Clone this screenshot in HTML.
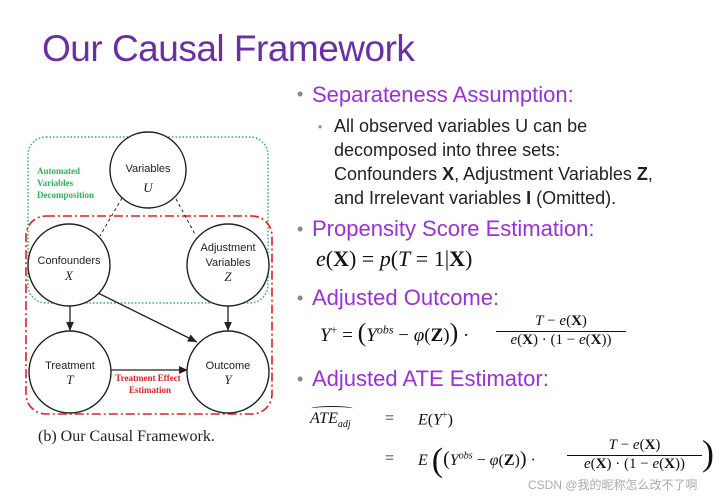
<!DOCTYPE html>
<html><head><meta charset="utf-8"><style>
body{margin:0;width:721px;height:500px;background:#fff;position:relative;overflow:hidden;font-family:"Liberation Sans",sans-serif}
.a{position:absolute;white-space:nowrap}
.p{color:#9b30d9;font-size:22px}
.b{color:#888;font-size:18px}
.t{color:#222;font-size:18px;line-height:24px}
.m{font-family:"Liberation Serif",serif;color:#111}
</style></head><body>
<div class="a" style="left:42px;top:28px;font-size:37px;color:#6a2ea8;letter-spacing:-0.5px">Our Causal Framework</div>
<svg class="a" style="left:0;top:0" width="290" height="500">
<defs><marker id="ar" markerWidth="8" markerHeight="8" refX="7" refY="4" orient="auto"><path d="M0,1 L7,4 L0,7z" fill="#222"/></marker></defs>
<rect x="28" y="137" width="240" height="166" rx="18" fill="none" stroke="#2db35a" stroke-width="1.5" stroke-dasharray="1.5,2"/>
<rect x="26" y="216" width="246" height="198" rx="20" fill="none" stroke="#e02020" stroke-width="1.6" stroke-dasharray="9,3,2,3"/>
<line x1="122" y1="198" x2="100" y2="236" stroke="#222" stroke-dasharray="3,3"/>
<line x1="176" y1="199" x2="196" y2="236" stroke="#222" stroke-dasharray="3,3"/>
<line x1="70" y1="303" x2="70" y2="331" stroke="#222" stroke-width="1.3" marker-end="url(#ar)"/>
<line x1="228" y1="303" x2="228" y2="331" stroke="#222" stroke-width="1.3" marker-end="url(#ar)"/>
<line x1="98" y1="293" x2="197" y2="342" stroke="#222" stroke-width="1.3" marker-end="url(#ar)"/>
<line x1="110" y1="370" x2="188" y2="370" stroke="#222" stroke-width="1.3" marker-end="url(#ar)"/>
<g fill="#fff" stroke="#222" stroke-width="1.4">
<circle cx="148" cy="170" r="38"/><circle cx="69" cy="265" r="41"/><circle cx="228" cy="265" r="41"/>
<circle cx="70" cy="372" r="41"/><circle cx="228" cy="372" r="41"/></g>
<g font-family="Liberation Sans" font-size="11" fill="#222" text-anchor="middle">
<text x="148" y="172">Variables</text><text x="69" y="264">Confounders</text>
<text x="228" y="251">Adjustment</text><text x="228" y="266">Variables</text>
<text x="70" y="369">Treatment</text><text x="228" y="369">Outcome</text></g>
<g font-family="Liberation Serif" font-style="italic" font-size="13" fill="#222" text-anchor="middle">
<text x="148" y="192">U</text><text x="69" y="280">X</text><text x="228" y="281">Z</text><text x="70" y="384">T</text><text x="228" y="384">Y</text></g>
<g font-family="Liberation Serif" font-weight="bold" font-size="9" fill="#2db35a">
<text x="37" y="174">Automated</text><text x="37" y="186">Variables</text><text x="37" y="198">Decomposition</text></g>
<g font-family="Liberation Serif" font-weight="bold" font-size="9" fill="#e02020" text-anchor="middle">
<text x="148" y="381">Treatment Effect</text><text x="150" y="393">Estimation</text></g>
<text x="38" y="441" font-family="Liberation Serif" font-size="16" fill="#222">(b) Our Causal Framework.</text>
</svg>
<div class="a b" style="left:297px;top:84px">•</div><div class="a p" style="left:312px;top:82px">Separateness Assumption:</div>
<div class="a" style="left:318px;top:120px;color:#888;font-size:12px">•</div>
<div class="a t" style="left:334px;top:114px">All observed variables U can be<br>decomposed into three sets:<br>Confounders <b>X</b>, Adjustment Variables <b>Z</b>,<br>and Irrelevant variables <b>I</b> (Omitted).</div>
<div class="a b" style="left:297px;top:219px">•</div><div class="a p" style="left:312px;top:216px">Propensity Score Estimation:</div>
<div class="a m" style="left:316px;top:246px;font-size:22px"><i>e</i>(<b>X</b>) = <i>p</i>(<i>T</i> = 1|<b>X</b>)</div>
<div class="a b" style="left:297px;top:288px">•</div><div class="a p" style="left:312px;top:285px">Adjusted Outcome:</div>
<div class="a m" style="left:320px;top:318px;font-size:19px"><i>Y</i><sup style="font-size:12px">+</sup> = <span style="font-size:26px">(</span><i>Y<sup style="font-size:12px">obs</sup></i> − <i>φ</i>(<b>Z</b>)<span style="font-size:26px">)</span> ·</div>
<div class="a m" style="left:496px;top:313px;font-size:15px;text-align:center;width:130px"><div style="border-bottom:1px solid #111;padding-bottom:1px"><i>T</i> − <i>e</i>(<b>X</b>)</div><div><i>e</i>(<b>X</b>) · (1 − <i>e</i>(<b>X</b>))</div></div>
<div class="a b" style="left:297px;top:369px">•</div><div class="a p" style="left:312px;top:366px">Adjusted ATE Estimator:</div>
<div class="a m" style="left:310px;top:410px;font-size:16px"><i>ATE</i><sub style="font-size:10px"><i>adj</i></sub></div>
<div class="a" style="left:311px;top:406px;width:42px;height:4px;border-top:1px solid #111;border-radius:50% 50% 0 0"></div>
<div class="a m" style="left:385px;top:410px;font-size:16px">=</div>
<div class="a m" style="left:418px;top:410px;font-size:16px"><i>E</i>(<i>Y</i><sup style="font-size:10px">+</sup>)</div>
<div class="a m" style="left:385px;top:450px;font-size:16px">=</div>
<div class="a m" style="left:418px;top:442px;font-size:16px"><i>E</i> <span style="font-size:34px;vertical-align:-6px">(</span><span style="font-size:20px">(</span><i>Y<sup style="font-size:10px">obs</sup></i> − <i>φ</i>(<b>Z</b>)<span style="font-size:20px">)</span> ·</div>
<div class="a m" style="left:567px;top:437px;font-size:15px;text-align:center;width:135px"><div style="border-bottom:1px solid #111;padding-bottom:1px"><i>T</i> − <i>e</i>(<b>X</b>)</div><div><i>e</i>(<b>X</b>) · (1 − <i>e</i>(<b>X</b>))</div></div>
<div class="a m" style="left:702px;top:432px;font-size:36px">)</div>
<div class="a" style="left:528px;top:476px;font-size:12px;color:#aaa;font-family:'Liberation Sans','Noto Sans CJK SC',sans-serif">CSDN @我的昵称怎么改不了啊</div>
</body></html>
